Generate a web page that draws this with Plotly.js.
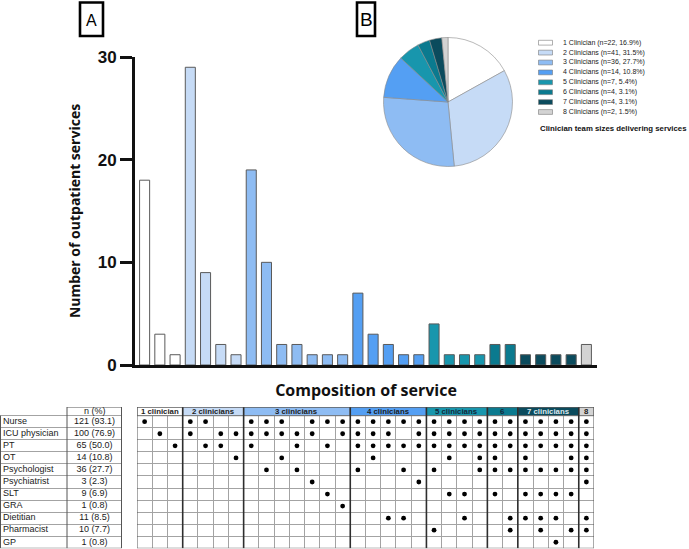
<!DOCTYPE html>
<html>
<head>
<meta charset="utf-8">
<script src="https://cdn.plot.ly/plotly-3.0.1.min.js"></script>
<style>html,body{margin:0;padding:0;background:#fff;}#chart{width:689px;height:549px;}</style>
</head>
<body>
<div id="chart"></div>
<script>
// ---------------- DATA ----------------
const groupNames = ['1 clinician','2 clinicians','3 clinicians','4 clinicians','5 clinicians','6','7 clinicians','8'];
const groupSizes = [3,4,7,5,4,2,4,1];
const groupColors = ['#FFFFFF','#C6DBF6','#8EBCF3','#549FF3','#1896AD','#0B7A8F','#0B4B5D','#D3D3D3'];
const headerTextColors = ['#1b1b1b','#1b1b1b','#1b1b1b','#1b1b1b','#13283a','#13283a','#dfe9ef','#1b1b1b'];

// number of outpatient services per composition (30 compositions)
const serviceCounts = [18,3,1, 29,9,2,1, 19,10,2,2,1,1,1, 7,3,2,1,1, 4,1,1,1, 2,2, 1,1,1,1, 2];

const roles = ['Nurse','ICU physician','PT','OT','Psychologist','Psychiatrist','SLT','GRA','Dietitian','Pharmacist','GP'];
const roleN = ['121 (93.1)','100 (76.9)','65 (50.0)','14 (10.8)','36 (27.7)','3 (2.3)','9 (6.9)','1 (0.8)','11 (8.5)','10 (7.7)','1 (0.8)'];

// composition of each service type: indices into roles
const compositions = [
  [0],[1],[2],
  [0,1],[0,2],[1,2],[1,3],
  [0,1,2],[0,1,4],[0,1,3],[1,2,4],[0,1,5],[0,2,6],[0,1,7],
  [0,1,2,4],[0,1,2,3],[0,1,2,8],[0,2,4,8],[0,1,2,5],
  [0,1,2,4,9],[0,1,2,3,6],[0,1,2,6,8],[0,1,2,3,4],
  [0,1,2,3,4,6],[0,1,2,4,8,9],
  [0,1,2,3,4,6,8],[0,1,2,4,6,8,9],[0,1,2,4,6,8,10],[0,1,2,3,4,6,9],
  [0,1,2,3,4,5,8,9]
];

const pieLabels = ['1 Clinician','2 Clinicians','3 Clinicians','4 Clinicians','5 Clinicians','6 Clinicians','7 Clinicians','8 Clinicians'];
const pieCounts = [22,41,36,14,7,4,4,2];
const piePct = ['16.9%','31.5%','27.7%','10.8%','5.4%','3.1%','3.1%','1.5%'];

// ---------------- BUILD ----------------
const W = 689, H = 549;
const fx = p => p / W;
const fy = p => 1 - p / H;

const colX = serviceCounts.map((_, i) => i + 1);
const colGroup = [];
groupSizes.forEach((s, g) => { for (let k = 0; k < s; k++) colGroup.push(g); });
const barColors = colGroup.map(g => groupColors[g]);

const dotX = [], dotY = [];
compositions.forEach((c, i) => c.forEach(r => { dotX.push(i + 1); dotY.push(r); }));

const HDR_TOP = -1.22;
const nRows = roles.length;
const halfX = []; for (let i = 0; i <= colX.length; i++) halfX.push(i + 0.5);
const halfY = []; for (let i = 0; i <= nRows; i++) halfY.push(i - 0.5);

const traces = [
  {
    type: 'bar', x: colX, y: serviceCounts, xaxis: 'x', yaxis: 'y',
    width: 0.66,
    marker: {color: barColors, line: {color: '#5a5a5a', width: 1}},
    hoverinfo: 'y', showlegend: false
  },
  {
    type: 'pie', labels: pieLabels, values: pieCounts, sort: false,
    direction: 'clockwise', rotation: 0, textinfo: 'none',
    marker: {colors: groupColors, line: {color: '#8a8a8a', width: 0.6}},
    domain: {x: [fx(383.5), fx(512.5)], y: [fy(166.5), fy(37.5)]},
    showlegend: false
  },
  {
    type: 'scatter', mode: 'markers', x: dotX, y: dotY, xaxis: 'x2', yaxis: 'y2',
    marker: {color: '#000', size: 4.8}, showlegend: false, hoverinfo: 'skip'
  },
  {
    type: 'scatter', mode: 'text', x: roles.map(() => 3), y: roles.map((_, i) => i),
    text: roles, textposition: 'middle right', xaxis: 'x3', yaxis: 'y2',
    textfont: {family: 'Liberation Sans', size: 9, color: '#1a1a1a'}, showlegend: false, hoverinfo: 'skip'
  },
  {
    type: 'scatter', mode: 'text', x: roleN.map(() => 94.5), y: roleN.map((_, i) => i),
    text: roleN, textposition: 'middle center', xaxis: 'x3', yaxis: 'y2',
    textfont: {family: 'Liberation Sans', size: 9, color: '#1a1a1a'}, showlegend: false, hoverinfo: 'skip'
  }
];

const shapes = [];
const annotations = [];

// header of composition table
let start = 1;
groupSizes.forEach((s, g) => {
  const x0 = start - 0.5, x1 = start + s - 0.5;
  shapes.push({type: 'rect', xref: 'x2', yref: 'y2', x0, x1, y0: HDR_TOP, y1: -0.5,
    fillcolor: groupColors[g], line: {color: '#707070', width: 1}, layer: 'above'});
  annotations.push({xref: 'x2', yref: 'y2', x: (x0 + x1) / 2, y: (HDR_TOP - 0.5) / 2,
    xanchor: 'center', yanchor: 'middle',
    text: '<b>' + groupNames[g] + '</b>', showarrow: false,
    font: {family: 'Liberation Sans', size: 7.8, color: headerTextColors[g]}});
  start += s;
});
// group boundary lines
let acc = 0;
groupSizes.slice(0, -1).forEach(s => {
  acc += s;
  shapes.push({type: 'line', xref: 'x2', yref: 'y2', x0: acc + 0.5, x1: acc + 0.5, y0: HDR_TOP, y1: nRows - 0.5,
    line: {color: '#2e2e2e', width: 1.6}, layer: 'above'});
});
// outer border of composition table
shapes.push({type: 'rect', xref: 'x2', yref: 'y2', x0: 0.5, x1: colX.length + 0.5, y0: HDR_TOP, y1: nRows - 0.5,
  line: {color: '#555', width: 1}, layer: 'above'});

// left table lines
shapes.push({type: 'line', xref: 'x3', yref: 'y2', x0: 0.5, x1: 0.5, y0: -0.5, y1: nRows - 0.5, line: {color: '#555', width: 1}});
shapes.push({type: 'line', xref: 'x3', yref: 'y2', x0: 67, x1: 67, y0: HDR_TOP, y1: nRows - 0.5, line: {color: '#555', width: 1}});
shapes.push({type: 'line', xref: 'x3', yref: 'y2', x0: 121.5, x1: 121.5, y0: HDR_TOP, y1: nRows - 0.5, line: {color: '#555', width: 1}});
shapes.push({type: 'line', xref: 'x3', yref: 'y2', x0: 67, x1: 121.5, y0: HDR_TOP, y1: HDR_TOP, line: {color: '#555', width: 1}});
shapes.push({type: 'line', xref: 'x3', yref: 'y2', x0: 0.5, x1: 121.5, y0: nRows - 0.5, y1: nRows - 0.5, line: {color: '#555', width: 1}});
annotations.push({xref: 'x3', yref: 'y2', x: 94.5, y: (HDR_TOP - 0.5) / 2, xanchor: 'center', yanchor: 'middle',
  text: 'n (%)', showarrow: false,
  font: {family: 'Liberation Sans', size: 9, color: '#1a1a1a'}});

// pie legend (drawn manually for compact spacing)
pieLabels.forEach((lab, i) => {
  const yc = 42.7 + i * 9.9;
  shapes.push({type: 'rect', xref: 'paper', yref: 'paper', x0: fx(538.5), x1: fx(552.5), y0: fy(yc + 2.4), y1: fy(yc - 2.4),
    fillcolor: groupColors[i], line: {color: '#7a7a7a', width: 0.6}});
  annotations.push({xref: 'paper', yref: 'paper', x: fx(560.5), y: fy(yc), xanchor: 'left', yanchor: 'middle',
    text: lab + ' (n=' + pieCounts[i] + ', ' + piePct[i] + ')', showarrow: false,
    font: {family: 'Liberation Sans', size: 7, color: '#222'}});
});
annotations.push({xref: 'paper', yref: 'paper', x: fx(537.5), y: fy(128), xanchor: 'left', yanchor: 'middle',
  text: '<b>Clinician team sizes delivering services</b>', showarrow: false,
  font: {family: 'Liberation Sans', size: 7.8, color: '#111'}});

// panel labels
shapes.push({type: 'rect', xref: 'paper', yref: 'paper', x0: fx(80), x1: fx(103), y0: fy(36), y1: fy(2.5), line: {color: '#000', width: 2.6}});
annotations.push({xref: 'paper', yref: 'paper', x: fx(91.5), y: fy(20), xanchor: 'center', yanchor: 'middle',
  text: 'A', showarrow: false, font: {family: 'Liberation Sans', size: 16, color: '#000'}});
shapes.push({type: 'rect', xref: 'paper', yref: 'paper', x0: fx(357), x1: fx(375), y0: fy(36), y1: fy(2.5), line: {color: '#000', width: 2.6}});
annotations.push({xref: 'paper', yref: 'paper', x: fx(366), y: fy(19.5), xanchor: 'center', yanchor: 'middle',
  text: 'B', showarrow: false, font: {family: 'Liberation Sans', size: 19, color: '#000'}});

const layout = {
  width: W, height: H,
  margin: {l: 0, r: 0, t: 0, b: 0},
  paper_bgcolor: '#fff', plot_bgcolor: 'rgba(0,0,0,0)',
  showlegend: false,
  xaxis: {
    domain: [fx(135), fx(597)], range: [0.369, 30.697], anchor: 'y',
    showline: true, linewidth: 3, linecolor: '#111', ticks: '', showticklabels: false,
    showgrid: false, zeroline: false,
    title: {text: 'Composition of service', standoff: 18,
      font: {family: 'Open Sans', size: 16, weight: 700, color: '#111'}}
  },
  yaxis: {
    domain: [fy(365), fy(57)], range: [0, 30], anchor: 'x',
    tickvals: [0, 10, 20, 30], ticks: 'outside', ticklen: 12, tickwidth: 3, tickcolor: '#111',
    showline: true, linewidth: 3, linecolor: '#111', showgrid: false, zeroline: false,
    tickfont: {family: 'Liberation Sans', size: 17, weight: 700, color: '#111'},
    title: {text: 'Number of outpatient services', standoff: 14,
      font: {family: 'Open Sans', size: 14, weight: 700, color: '#111'}}
  },
  xaxis2: {
    domain: [fx(137), fx(594)], range: [0.5, colX.length + 0.5], anchor: 'y2',
    tickvals: halfX, ticks: '', showticklabels: false, showgrid: true, gridcolor: '#a3a3a3', gridwidth: 1,
    zeroline: false, showline: false
  },
  yaxis2: {
    domain: [fy(548.3), fy(407)], range: [nRows - 0.5, HDR_TOP], anchor: 'x2',
    tickvals: halfY, ticks: '', showticklabels: false, showgrid: true, gridcolor: '#a3a3a3', gridwidth: 1,
    zeroline: false, showline: false
  },
  xaxis3: {
    domain: [0, fx(122)], range: [0, 122], anchor: 'y2',
    showgrid: false, showticklabels: false, ticks: '', zeroline: false, showline: false
  },
  shapes, annotations
};

Plotly.newPlot('chart', traces, layout, {displayModeBar: false, staticPlot: true});
</script>
</body>
</html>
